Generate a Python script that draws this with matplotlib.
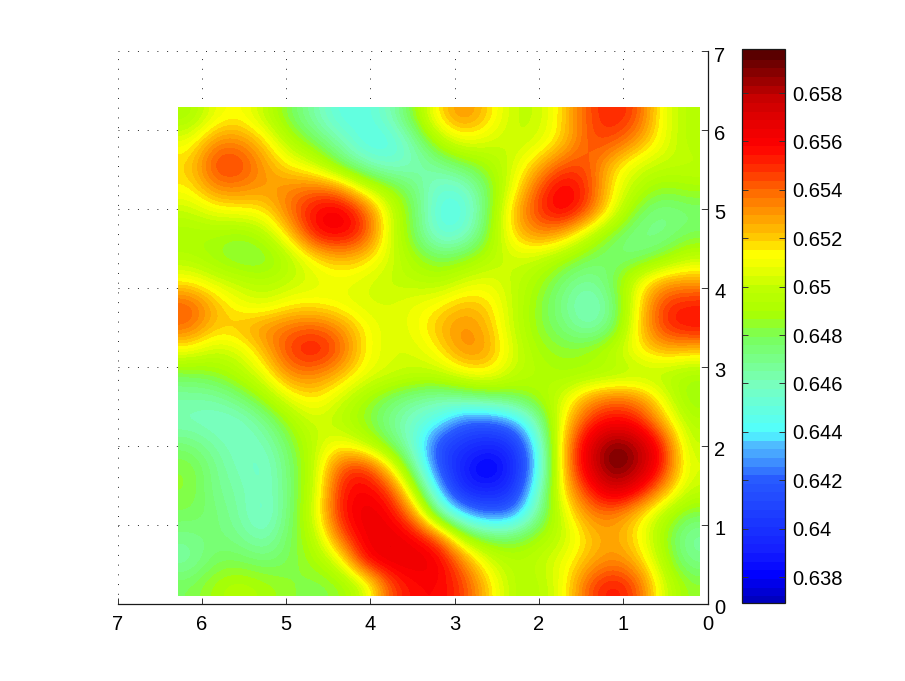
import numpy as np
import matplotlib
matplotlib.use("Agg")
import matplotlib.pyplot as plt
from matplotlib.colors import LinearSegmentedColormap, Normalize
from matplotlib.ticker import FixedLocator, NullLocator
from matplotlib.transforms import ScaledTranslation

plt.rcParams['font.family'] = ['Liberation Sans', 'DejaVu Sans']

# Field values x 10^4, rows top to bottom (y high to low), columns left to right (x high to low)
row_1  = [6490,6510,6515,6500,6480,6465,6448,6448,6460,6485,6520,6535,6520,6500,6500,6520,6545,6555,6545,6510,6495]
row_2  = [6510,6535,6535,6520,6495,6480,6465,6445,6445,6465,6495,6510,6505,6500,6505,6520,6545,6545,6530,6510,6495]
row_3  = [6520,6550,6550,6530,6515,6505,6480,6465,6455,6460,6470,6480,6490,6505,6525,6545,6545,6520,6505,6500,6500]
row_4  = [6515,6535,6535,6530,6535,6540,6535,6505,6490,6475,6452,6455,6480,6510,6545,6565,6550,6515,6495,6485,6490]
row_5  = [6500,6510,6512,6515,6540,6560,6568,6548,6505,6480,6445,6445,6480,6525,6550,6565,6545,6510,6480,6470,6475]
row_6  = [6490,6490,6485,6495,6520,6558,6562,6550,6505,6480,6450,6455,6485,6520,6535,6525,6500,6480,6470,6470,6480]
row_7  = [6495,6487,6480,6480,6495,6515,6525,6520,6505,6490,6480,6485,6495,6505,6500,6490,6480,6475,6475,6485,6500]
row_8  = [6515,6505,6500,6495,6500,6505,6510,6505,6500,6498,6495,6505,6510,6500,6490,6475,6465,6480,6510,6530,6530]
row_9  = [6545,6525,6510,6505,6515,6515,6510,6505,6505,6510,6515,6525,6520,6500,6485,6470,6455,6470,6515,6550,6555]
row_10 = [6540,6520,6525,6535,6540,6545,6535,6515,6505,6510,6525,6535,6525,6500,6485,6475,6462,6475,6518,6550,6558]
row_11 = [6510,6500,6505,6525,6550,6558,6545,6515,6505,6505,6515,6535,6530,6505,6490,6485,6490,6500,6515,6525,6520]
row_12 = [6480,6485,6495,6510,6535,6535,6525,6510,6505,6500,6500,6510,6515,6500,6495,6490,6490,6492,6495,6495,6490]
row_13 = [6465,6465,6475,6490,6510,6518,6505,6490,6478,6470,6465,6470,6475,6480,6490,6505,6530,6540,6535,6510,6485]
row_14 = [6460,6457,6457,6470,6490,6505,6495,6485,6470,6455,6445,6420,6420,6430,6465,6515,6550,6560,6555,6525,6495]
row_15 = [6475,6465,6458,6460,6480,6500,6515,6500,6480,6455,6410,6402,6395,6400,6445,6525,6570,6595,6585,6555,6500]
row_16 = [6485,6470,6460,6455,6475,6500,6545,6555,6520,6470,6415,6390,6372,6395,6440,6525,6570,6598,6585,6555,6505]
row_17 = [6485,6470,6465,6455,6475,6500,6555,6562,6552,6500,6435,6395,6395,6400,6455,6520,6550,6575,6560,6530,6500]
row_18 = [6480,6475,6465,6452,6475,6505,6555,6568,6562,6535,6470,6435,6420,6425,6470,6505,6535,6535,6520,6495,6480]
row_19 = [6470,6475,6470,6460,6480,6495,6540,6565,6568,6562,6545,6495,6480,6480,6490,6500,6520,6530,6515,6490,6465]
row_20 = [6465,6480,6480,6475,6480,6490,6505,6560,6568,6568,6565,6535,6505,6495,6500,6510,6525,6535,6525,6495,6470]
row_21 = [6480,6490,6495,6490,6485,6480,6485,6500,6545,6558,6560,6548,6520,6495,6495,6510,6545,6558,6545,6505,6485]

field_rows = [row_1, row_2, row_3, row_4, row_5, row_6, row_7, row_8, row_9, row_10, row_11,
              row_12, row_13, row_14, row_15, row_16, row_17, row_18, row_19, row_20, row_21]

axis_ticks = [0, 1, 2, 3, 4, 5, 6, 7]
cbar_ticks = [0.638, 0.64, 0.642, 0.644, 0.646, 0.648, 0.65, 0.652, 0.654, 0.656, 0.658]
cbar_labels = ['0.638', '0.64', '0.642', '0.644', '0.646', '0.648', '0.65', '0.652', '0.654', '0.656', '0.658']

vmin, vmax = 0.63693, 0.65982
anchor_values = [0.63693, 0.638, 0.639, 0.640, 0.642, 0.643, 0.6435, 0.644, 0.646, 0.648, 0.649,
                 0.650, 0.651, 0.6515, 0.652, 0.653, 0.654, 0.655, 0.656, 0.657, 0.658, 0.659, 0.65982]
anchor_colors = ['#0000be', '#0000ff', '#141eff', '#1932ff', '#285aff', '#46a0ff', '#50beff', '#50ffff',
                 '#78ffbe', '#78ff5a', '#aaff00', '#beff00', '#f0ff00', '#ffff00', '#ffd200', '#ffa000',
                 '#ff6e00', '#ff3200', '#ff0000', '#e60000', '#c80000', '#8c0000', '#5a0000']

W, H = 905, 681
fig = plt.figure(figsize=(W / 100, H / 100), dpi=100)
ax = fig.add_axes([117.5 / W, 1 - 603.5 / H, 590 / W, 552.5 / H])

cmap = LinearSegmentedColormap.from_list(
    'bar', [((v - vmin) / (vmax - vmin), c) for v, c in zip(anchor_values, anchor_colors)], N=64)
norm = Normalize(vmin, vmax)

field = np.array(field_rows) / 10000.0
im = ax.imshow(field, cmap=cmap, norm=norm, interpolation='bicubic', interpolation_stage='data',
               extent=(6.283, 0.098, 0.098, 6.283), origin='upper', aspect='auto', zorder=3)

ax.set_xlim(7, 0)
ax.set_ylim(0, 7)
ax.set_xticks(axis_ticks)
ax.set_yticks(axis_ticks)
ax.yaxis.tick_right()
for s in ('top', 'left'):
    ax.spines[s].set_visible(False)
for s in ('right', 'bottom'):
    ax.spines[s].set_linewidth(0.9)
    ax.spines[s].set_color('#1a1a1a')
ax.tick_params(axis='x', direction='in', length=4.5, width=0.7, pad=8, labelsize=14.5, color='#333333')
ax.tick_params(axis='y', direction='in', length=4.5, width=0.7, pad=5, labelsize=14.5, color='#333333')
ax.grid(True, color='#222222', linewidth=0.7, linestyle=(0, (1, 9)), zorder=1)
ax.set_axisbelow(True)
label_shift = ScaledTranslation(0, -3 / 100, fig.dpi_scale_trans)
for lbl in ax.get_yticklabels():
    lbl.set_transform(lbl.get_transform() + label_shift)

cax = fig.add_axes([741.5 / W, 1 - 603 / H, 43.5 / W, 554 / H])
cb = fig.colorbar(im, cax=cax)
cb.solids.set_edgecolor('face')
cax.yaxis.set_major_locator(FixedLocator(cbar_ticks))
cax.yaxis.set_minor_locator(NullLocator())
cax.set_yticklabels(cbar_labels)
cax.tick_params(axis='y', direction='in', left=True, right=True, length=4.5, width=0.7,
                pad=5, labelsize=14.5, color='#333333')
for s in cax.spines.values():
    s.set_linewidth(0.9)
    s.set_color('#1a1a1a')
cb.outline.set_linewidth(0.9)
cb.outline.set_edgecolor('#1a1a1a')

fig.savefig('out.png', dpi=100)
